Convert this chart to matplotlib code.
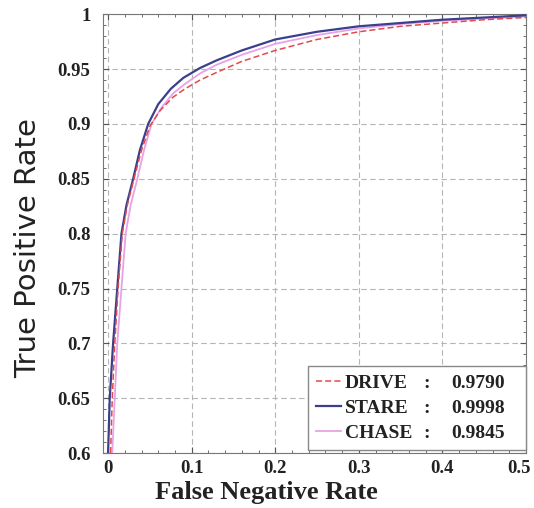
import numpy as np
import matplotlib
matplotlib.use("Agg")
import matplotlib.pyplot as plt
from matplotlib.ticker import MultipleLocator, AutoMinorLocator
from matplotlib.font_manager import FontProperties
from matplotlib.transforms import ScaledTranslation

# ROC-style curves
names = ["DRIVE", "STARE", "CHASE"]
auc = ["0.9790", "0.9998", "0.9845"]

drive_fnr = [0.003, 0.005, 0.008, 0.012, 0.017, 0.023, 0.031, 0.040, 0.050, 0.062, 0.077,
             0.092, 0.11, 0.13, 0.16, 0.2, 0.25, 0.3, 0.35, 0.4, 0.45, 0.5]
drive_tpr = [0.60, 0.65, 0.70, 0.75, 0.80, 0.826, 0.85, 0.876, 0.898, 0.912, 0.924,
             0.932, 0.940, 0.947, 0.957, 0.967, 0.977, 0.984, 0.989, 0.992, 0.995, 0.997]

stare_fnr = [0.0, 0.002, 0.006, 0.011, 0.016, 0.022, 0.030, 0.038, 0.048, 0.06, 0.075,
             0.09, 0.11, 0.13, 0.16, 0.2, 0.25, 0.3, 0.35, 0.4, 0.45, 0.5]
stare_tpr = [0.60, 0.65, 0.70, 0.75, 0.80, 0.826, 0.85, 0.876, 0.90, 0.918, 0.932,
             0.942, 0.951, 0.958, 0.967, 0.977, 0.984, 0.989, 0.992, 0.995, 0.997, 0.999]

chase_fnr = [0.005, 0.008, 0.011, 0.016, 0.021, 0.027, 0.035, 0.043, 0.052, 0.064, 0.078,
             0.093, 0.11, 0.13, 0.16, 0.2, 0.25, 0.3, 0.35, 0.4, 0.45, 0.5]
chase_tpr = [0.60, 0.65, 0.70, 0.75, 0.80, 0.826, 0.85, 0.876, 0.90, 0.915, 0.928,
             0.937, 0.946, 0.954, 0.963, 0.973, 0.981, 0.987, 0.991, 0.994, 0.996, 0.998]

serif_bold = dict(family="Liberation Serif", weight="bold")

fig = plt.figure(figsize=(5.34, 5.08), dpi=100)
ax = fig.add_axes([0.193, 0.108, 0.792, 0.864])

l_chase, = ax.plot(chase_fnr, chase_tpr, color="#e6a3e6", lw=1.3, zorder=3)
l_stare, = ax.plot(stare_fnr, stare_tpr, color="#3b3f8c", lw=1.6, zorder=4)
l_drive, = ax.plot(drive_fnr, drive_tpr, color="#e24a4a", lw=1.1, ls=(0, (4, 2)), zorder=5)

ax.set_xlim(-0.006, 0.5)
ax.set_ylim(0.6, 1.0)
ax.xaxis.set_major_locator(MultipleLocator(0.1))
ax.yaxis.set_major_locator(MultipleLocator(0.05))
ax.xaxis.set_minor_locator(AutoMinorLocator(5))
ax.yaxis.set_minor_locator(AutoMinorLocator(5))
ax.set_xticks([0, 0.1, 0.2, 0.3, 0.4, 0.5])
ax.set_xticklabels(["0", "0.1", "0.2", "0.3", "0.4", "0.5"])
ax.set_yticks([0.6, 0.65, 0.7, 0.75, 0.8, 0.85, 0.9, 0.95, 1.0])
ax.set_yticklabels(["0.6", "0.65", "0.7", "0.75", "0.8", "0.85", "0.9", "0.95", "1"])

ax.grid(True, which="major", color="#b5b5b5", lw=0.8, ls=(0, (5, 3)))
ax.tick_params(which="both", direction="in", top=True, right=True, colors="#555555")
ax.tick_params(which="major", length=4)
ax.tick_params(which="minor", length=2)
ax.tick_params(axis="y", pad=9)
ax.tick_params(axis="x", pad=5)
for lab in ax.get_xticklabels() + ax.get_yticklabels():
    lab.set_fontproperties(FontProperties(size=13.5, **serif_bold))
    lab.set_color("#222222")
for s in ax.spines.values():
    s.set_color("#777777")

# keep the last x tick label inside the picture
last = ax.get_xticklabels()[-1]
last.set_transform(last.get_transform() + ScaledTranslation(-5 / 72, 0, fig.dpi_scale_trans))

ax.set_xlabel("False Negative Rate", fontsize=19, color="#222222", **serif_bold)
ax.xaxis.set_label_coords(0.385, -0.064)
ax.set_ylabel("True Positive Rate", fontsize=21, family="DejaVu Sans", color="#222222")
ax.yaxis.set_label_coords(-0.144, 0.467)

leg = ax.legend([l_drive, l_stare, l_chase], names, loc="lower left",
                bbox_to_anchor=(0.485, 0.007, 0.515, 0.21), mode="expand",
                fancybox=False, edgecolor="#888888", framealpha=1,
                prop=FontProperties(size=14, **serif_bold),
                handlelength=1.3, handletextpad=0.2, borderpad=0.4,
                labelspacing=0.4, borderaxespad=0)
leg.get_frame().set_linewidth(1.0)
for t in leg.get_texts():
    t.set_color("#222222")

# colons and AUC values lined up with the legend rows
fig.canvas.draw()
inv = ax.transAxes.inverted()
for t, val in zip(leg.get_texts(), auc):
    bb = t.get_window_extent()
    yc = inv.transform((0, (bb.y0 + bb.y1) / 2))[1]
    ax.text(0.766, yc, ":", transform=ax.transAxes, ha="center", va="center",
            fontsize=14, color="#222222", zorder=10, **serif_bold)
    ax.text(0.824, yc, val, transform=ax.transAxes, ha="left", va="center",
            fontsize=14, color="#222222", zorder=10, **serif_bold)

fig.savefig("out.png", dpi=100)
